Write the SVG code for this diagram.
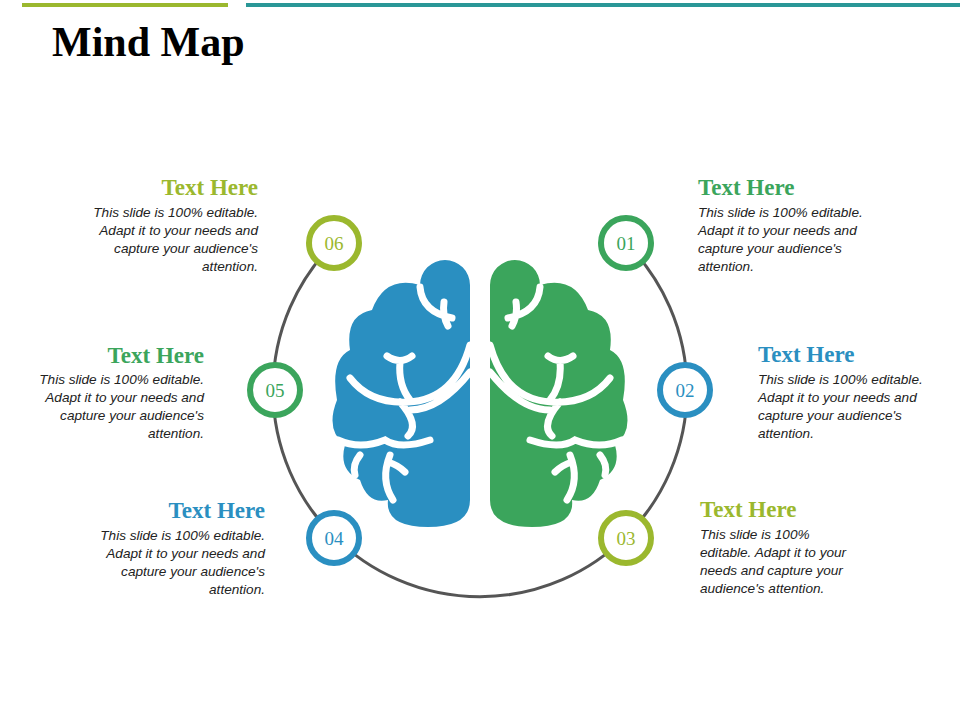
<svg xmlns="http://www.w3.org/2000/svg" width="960" height="720" viewBox="0 0 960 720">
<style>
.h{font-family:"Liberation Serif",serif;font-weight:bold;font-size:23px}
.b{font-family:"Liberation Sans",sans-serif;font-style:italic;font-size:13.6px;fill:#222}
.n{fill:#fff;stroke-width:6}
.nt{font-family:"Liberation Serif",serif;font-size:19px;text-anchor:middle}
.g{stroke:#fff;stroke-width:7;fill:none;stroke-linecap:round}
</style>
<defs>
<g id="half">
<path d="M470,285 A25,25 0 0 0 420,285 Q385,275 372,310 Q345,315 350,350 Q330,360 337,400 Q325,430 345,445 Q338,470 360,480 Q368,505 388,500 Q385,527 428,527 Q470,527 470,500 Z"/>
<path class="g" d="M420,287 Q422,312 452,318 M444,302 Q442,315 448,326"/>
<path class="g" d="M470,345 Q455,400 408,402 Q370,404 350,378 M387,356 Q400,365 412,356 M400,362 Q398,385 410,400 M400,402 Q420,425 408,436 M410,410 Q440,410 470,372"/>
<path class="g" d="M338,440 Q360,450 385,440 Q400,450 430,440 M390,455 Q380,480 393,500 M388,462 Q398,465 405,472 M360,455 Q352,465 355,475"/>
</g>
</defs>
<rect width="960" height="720" fill="#fff"/>
<line x1="22" y1="5" x2="228" y2="5" stroke="#9BB82E" stroke-width="4"/>
<line x1="246" y1="5" x2="960" y2="5" stroke="#2A9797" stroke-width="4"/>
<text x="52" y="56" font-family="Liberation Serif,serif" font-weight="bold" font-size="42" fill="#000">Mind Map</text>
<g id="connectors">
<path d="M334,243 A207,207 0 1 0 626,243" fill="none" stroke="#555" stroke-width="3"/>
</g>
<g id="brain">
<use href="#half" fill="#2A8FC1"/>
<use href="#half" fill="#3BA55C" transform="translate(960,0) scale(-1,1)"/>
</g>
<g id="n01"><circle class="n" cx="626" cy="243" r="25" stroke="#3BA55C"/><text class="nt" x="626" y="250" fill="#3BA55C">01</text>
<text class="h" x="698" y="195" fill="#3BA55C">Text Here</text>
<text class="b" x="698" y="217">This slide is 100% editable.<tspan x="698" dy="18">Adapt it to your needs and</tspan><tspan x="698" dy="18">capture your audience's</tspan><tspan x="698" dy="18">attention.</tspan></text></g>
<g id="n02"><circle class="n" cx="685" cy="390" r="25" stroke="#2A8FC1"/><text class="nt" x="685" y="397" fill="#2A8FC1">02</text>
<text class="h" x="758" y="362" fill="#2A8FC1">Text Here</text>
<text class="b" x="758" y="384">This slide is 100% editable.<tspan x="758" dy="18">Adapt it to your needs and</tspan><tspan x="758" dy="18">capture your audience's</tspan><tspan x="758" dy="18">attention.</tspan></text></g>
<g id="n03"><circle class="n" cx="626" cy="538" r="25" stroke="#9BB82E"/><text class="nt" x="626" y="545" fill="#9BB82E">03</text>
<text class="h" x="700" y="517" fill="#9BB82E">Text Here</text>
<text class="b" x="700" y="539">This slide is 100%<tspan x="700" dy="18">editable. Adapt it to your</tspan><tspan x="700" dy="18">needs and capture your</tspan><tspan x="700" dy="18">audience's attention.</tspan></text></g>
<g id="n04"><circle class="n" cx="334" cy="538" r="25" stroke="#2A8FC1"/><text class="nt" x="334" y="545" fill="#2A8FC1">04</text>
<text class="h" x="265" y="518" fill="#2A8FC1" text-anchor="end">Text Here</text>
<text class="b" x="265" y="540" text-anchor="end">This slide is 100% editable.<tspan x="265" dy="18">Adapt it to your needs and</tspan><tspan x="265" dy="18">capture your audience's</tspan><tspan x="265" dy="18">attention.</tspan></text></g>
<g id="n05"><circle class="n" cx="275" cy="390" r="25" stroke="#3BA55C"/><text class="nt" x="275" y="397" fill="#3BA55C">05</text>
<text class="h" x="204" y="363" fill="#3BA55C" text-anchor="end">Text Here</text>
<text class="b" x="204" y="384" text-anchor="end">This slide is 100% editable.<tspan x="204" dy="18">Adapt it to your needs and</tspan><tspan x="204" dy="18">capture your audience's</tspan><tspan x="204" dy="18">attention.</tspan></text></g>
<g id="n06"><circle class="n" cx="334" cy="243" r="25" stroke="#9BB82E"/><text class="nt" x="334" y="250" fill="#9BB82E">06</text>
<text class="h" x="258" y="195" fill="#9BB82E" text-anchor="end">Text Here</text>
<text class="b" x="258" y="217" text-anchor="end">This slide is 100% editable.<tspan x="258" dy="18">Adapt it to your needs and</tspan><tspan x="258" dy="18">capture your audience's</tspan><tspan x="258" dy="18">attention.</tspan></text></g>
</svg>
